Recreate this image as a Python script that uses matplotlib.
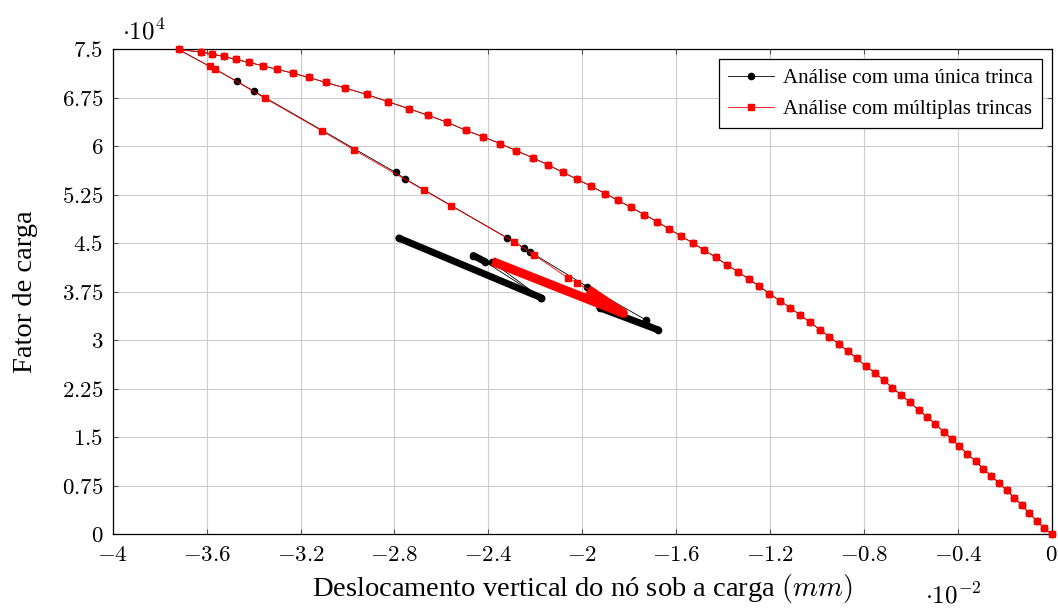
import numpy as np
import matplotlib
matplotlib.use("Agg")
import matplotlib.pyplot as plt

plt.rcParams['font.family'] = ['Liberation Serif', 'DejaVu Serif']
plt.rcParams['mathtext.fontset'] = 'cm'

# x in 1e-2 mm, y (load factor) in 1e4
# loading branch, shared by both analyses (origin -> peak)
x_up = [0, -0.033, -0.064, -0.095, -0.127, -0.159, -0.192, -0.225, -0.257, -0.291,
        -0.324, -0.360, -0.394, -0.426, -0.460, -0.496, -0.531, -0.567, -0.604, -0.642,
        -0.679, -0.716, -0.754, -0.793, -0.831, -0.868, -0.908, -0.948, -0.988, -1.030,
        -1.072, -1.115, -1.159, -1.203, -1.246, -1.291, -1.338, -1.385, -1.432, -1.481,
        -1.530, -1.581, -1.631, -1.682, -1.736, -1.791, -1.847, -1.903, -1.963, -2.023,
        -2.084, -2.147, -2.211, -2.280, -2.349, -2.422, -2.495, -2.574, -2.655, -2.739,
        -2.827, -2.919, -3.010, -3.093, -3.166, -3.234, -3.300, -3.361, -3.420, -3.476,
        -3.528, -3.579, -3.625, -3.72]
y_up = [0, 0.102, 0.211, 0.325, 0.449, 0.567, 0.681, 0.794, 0.902, 1.015,
        1.130, 1.248, 1.362, 1.475, 1.588, 1.707, 1.816, 1.924, 2.043, 2.156,
        2.269, 2.384, 2.502, 2.605, 2.724, 2.833, 2.946, 3.059, 3.167, 3.282,
        3.395, 3.508, 3.616, 3.724, 3.839, 3.952, 4.065, 4.173, 4.288, 4.396,
        4.509, 4.618, 4.726, 4.839, 4.947, 5.056, 5.164, 5.272, 5.387, 5.495,
        5.604, 5.717, 5.825, 5.933, 6.042, 6.150, 6.248, 6.372, 6.480, 6.584,
        6.692, 6.805, 6.904, 6.991, 7.068, 7.136, 7.192, 7.249, 7.300, 7.347,
        7.393, 7.430, 7.461, 7.5]

# single crack: post-peak branch
blk_x = [-3.470, -3.400, -2.795, -2.755, -2.322, -2.248, -2.223, -1.979, -1.729, -1.677,
         -1.925, -2.385, -2.177, -2.781, np.nan, -2.464, -2.415, -2.177]
blk_y = [7.006, 6.858, 5.598, 5.500, 4.591, 4.432, 4.370, 3.833, 3.317, 3.163,
         3.503, 4.215, 3.663, 4.582, np.nan, 4.313, 4.220, 3.663]
# stretches where the single-crack points pile up (start / end)
blk_dense_x = [[-1.677, -1.925], [-2.177, -2.781], [-2.464, -2.415]]
blk_dense_y = [[3.163, 3.503], [3.663, 4.582], [4.313, 4.220]]

# multiple cracks: post-peak branch
red_x = [-3.586, -3.565, -3.353, -3.110, -2.971, -2.672, -2.559, -2.290, -2.205, -2.060,
         -2.024, -1.959, -1.825, -2.365]
red_y = [7.238, 7.203, 6.749, 6.243, 5.944, 5.319, 5.082, 4.520, 4.324, 3.963,
         3.895, 3.751, 3.421, 4.195]
red_dense_x = [-1.959, -1.825, -2.365]
red_dense_y = [3.751, 3.421, 4.195]

x_ticks = [-4, -3.6, -3.2, -2.8, -2.4, -2, -1.6, -1.2, -0.8, -0.4, 0]
x_labels = ['-4', '-3.6', '-3.2', '-2.8', '-2.4', '-2', '-1.6', '-1.2', '-0.8', '-0.4', '0']
y_ticks = [0, 0.75, 1.5, 2.25, 3, 3.75, 4.5, 5.25, 6, 6.75, 7.5]
y_labels = ['0', '0.75', '1.5', '2.25', '3', '3.75', '4.5', '5.25', '6', '6.75', '7.5']

fig = plt.figure(figsize=(10.58, 6.08), dpi=100)
ax = fig.add_axes([0.1066, 0.1212, 0.8874, 0.7974])

l1, = ax.plot(x_up + blk_x, y_up + blk_y, color='black', lw=0.6, marker='o', ms=4.5,
              label='Análise com uma única trinca', clip_on=False, zorder=3)
for dx, dy in zip(blk_dense_x, blk_dense_y):
    ax.plot(dx, dy, color='black', lw=5, solid_capstyle='round', zorder=3)

l2, = ax.plot(x_up + red_x, y_up + red_y, color='red', lw=0.6, marker='s', ms=5,
              mec='red', label='Análise com múltiplas trincas', clip_on=False, zorder=4)
ax.plot(red_dense_x, red_dense_y, color='red', lw=6.5, solid_capstyle='projecting',
        solid_joinstyle='round', zorder=4)

ax.set_xlim(-4, 0)
ax.set_ylim(0, 7.5)
ax.set_xticks(x_ticks)
ax.set_xticklabels(['$' + s + '$' for s in x_labels], fontsize=16.5)
ax.set_yticks(y_ticks)
ax.set_yticklabels(['$' + s + '$' for s in y_labels], fontsize=16.5)
ax.tick_params(direction='in', length=3.5, width=0.8, color='#555555',
               top=True, right=True)
ax.tick_params(axis='x', pad=8)
ax.tick_params(axis='y', pad=7)
ax.grid(True, color='#cccccc', lw=0.8)
ax.set_axisbelow(True)
for s in ax.spines.values():
    s.set_linewidth(0.9)

ax.set_xlabel('Deslocamento vertical do nó sob a carga $(mm)$', fontsize=20.5, labelpad=4)
ax.set_ylabel('Fator de carga', fontsize=20.5, labelpad=17)
ax.text(0.01, 1.01, r'$\cdot 10^{4}$', transform=ax.transAxes, fontsize=18,
        ha='left', va='bottom')
ax.text(0.865, -0.1, r'$\cdot 10^{-2}$', transform=ax.transAxes, fontsize=18,
        ha='left', va='top')

leg = ax.legend(handles=[l1, l2], loc='upper right', bbox_to_anchor=(0.9896, 0.9804),
                borderaxespad=0, fontsize=15, fancybox=False, framealpha=1,
                edgecolor='black', handlelength=2.2, borderpad=0.45, labelspacing=0.55,
                handletextpad=0.4)
leg.get_frame().set_linewidth(0.9)

fig.savefig('out.png', dpi=100)
